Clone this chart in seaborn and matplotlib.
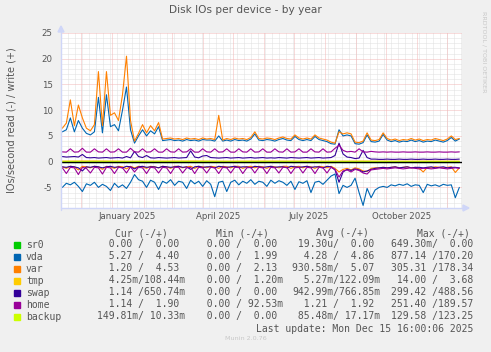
import numpy as np
import pandas as pd
import matplotlib
matplotlib.use("Agg")
import matplotlib.pyplot as plt
import matplotlib.dates as mdates
from matplotlib.ticker import MultipleLocator
import seaborn as sns

W, H = 491, 352
DPI = 100

# ---------------- data ----------------
dates = pd.date_range("2024-11-12", periods=100, freq="4D")
coarse_dates = pd.date_range("2024-11-12", periods=13, freq="33D")

vda_write = [5.8, 6.2, 8.5, 5.8, 8.0, 6.5, 5.5, 5.2, 5.8, 12.5,
             5.6, 13.0, 6.8, 7.2, 6.0, 10.0, 14.5, 6.2, 3.6, 5.0,
             6.2, 5.0, 6.0, 5.4, 6.8, 4.1, 4.2, 4.3, 4.1, 4.2,
             4.0, 4.3, 4.1, 4.2, 4.0, 4.3, 4.2, 4.2, 4.0, 5.0,
             4.0, 4.2, 4.0, 4.3, 4.1, 4.2, 4.0, 4.4, 5.4, 4.2,
             4.1, 4.3, 4.2, 4.0, 4.3, 4.5, 4.2, 4.1, 4.9, 4.3,
             4.1, 4.3, 4.1, 4.9, 4.3, 4.1, 3.9, 3.5, 3.4, 6.2,
             5.0, 5.2, 5.0, 3.5, 3.4, 3.7, 5.2, 3.9, 3.8, 4.0,
             5.3, 4.2, 3.9, 4.1, 3.8, 4.0, 3.9, 4.2, 3.9, 4.1,
             3.8, 4.0, 3.9, 4.2, 4.0, 3.8, 4.1, 4.7, 4.0, 4.4]
var_write = [6.5, 7.5, 12.0, 7.0, 11.0, 8.5, 6.5, 6.0, 7.2, 17.5,
             7.0, 17.5, 9.0, 9.5, 8.0, 13.0, 20.5, 8.0, 4.0, 5.5,
             7.2, 5.6, 7.0, 6.0, 7.6, 4.4, 4.5, 4.6, 4.4, 4.5,
             4.3, 4.6, 4.4, 4.5, 4.3, 4.6, 4.4, 4.5, 4.3, 9.0,
             4.2, 4.5, 4.3, 4.6, 4.4, 4.5, 4.3, 4.7, 5.8, 4.5,
             4.4, 4.6, 4.5, 4.3, 4.6, 4.8, 4.5, 4.4, 5.2, 4.6,
             4.4, 4.6, 4.4, 5.2, 4.6, 4.4, 4.2, 3.8, 3.6, 5.8,
             5.4, 5.6, 5.4, 3.8, 3.7, 4.0, 5.6, 4.2, 4.1, 4.3,
             5.6, 4.5, 4.2, 4.4, 4.1, 4.3, 4.2, 4.5, 4.2, 4.4,
             4.1, 4.3, 4.2, 4.5, 4.3, 4.1, 4.4, 5.0, 4.3, 4.5]
vda_read = [-5.0, -4.2, -4.5, -4.0, -4.8, -5.8, -4.3, -4.6, -4.0, -5.0,
            -4.4, -4.8, -5.6, -4.2, -5.0, -4.5, -5.2, -4.0, -2.5, -3.5,
            -3.8, -5.0, -3.6, -4.0, -5.4, -3.8, -4.2, -3.5, -4.6, -3.8,
            -4.0, -5.2, -3.6, -4.3, -3.8, -4.8, -3.7, -4.4, -6.8, -4.0,
            -3.8, -5.8, -4.0, -3.6, -4.5, -3.8, -4.2, -3.5, -4.4, -3.8,
            -4.0, -4.8, -3.6, -4.2, -3.7, -4.0, -4.6, -3.8, -5.4, -3.9,
            -4.2, -3.7, -6.0, -4.0, -3.8, -4.4, -3.6, -2.8, -2.4, -6.2,
            -4.6, -5.0, -4.6, -3.2, -6.0, -8.5, -5.2, -7.0, -5.5, -5.0,
            -4.8, -5.0, -4.5, -4.7, -4.4, -4.6, -4.3, -4.8, -4.5, -4.6,
            -6.0, -4.4, -4.7, -4.5, -4.8, -4.4, -4.6, -4.5, -7.0, -5.0]
var_read = [-1.0, -1.3, -0.9, -1.0, -1.6, -0.9, -1.0, -1.2, -0.9, -1.0,
            -1.5, -0.9, -1.0, -1.3, -0.9, -1.0, -1.4, -0.9, -1.2, -0.9,
            -1.0, -1.3, -0.9, -1.0, -1.2, -0.9, -1.0, -1.3, -0.9, -0.9,
            -1.2, -1.0, -0.9, -1.3, -0.9, -1.0, -1.2, -0.9, -1.0, -1.3,
            -0.9, -1.0, -1.2, -0.9, -0.9, -1.3, -1.0, -0.9, -1.2, -0.9,
            -1.0, -1.3, -0.9, -1.0, -1.2, -0.9, -0.9, -1.3, -1.0, -0.9,
            -1.2, -0.9, -1.0, -1.3, -0.9, -1.0, -1.2, -0.9, -1.3, -2.0,
            -1.5, -1.3, -1.6, -1.2, -1.4, -1.8, -1.9, -1.3, -1.2, -1.2,
            -1.1, -1.2, -1.1, -1.0, -1.2, -1.1, -1.0, -1.2, -1.1, -1.3,
            -2.0, -1.1, -1.2, -1.0, -1.1, -1.2, -1.1, -1.0, -2.1, -1.2]
swap_write = [1.0, 0.9, 0.95, 1.0, 0.9, 1.4, 0.8, 0.75, 0.8, 0.7,
              0.75, 0.8, 0.7, 0.75, 0.8, 0.7, 1.0, 0.75, 2.0, 1.0,
              0.8, 1.2, 0.75, 0.7, 0.8, 0.75, 0.7, 0.75, 0.8, 0.7,
              0.75, 0.8, 2.1, 0.9, 0.75, 1.1, 1.2, 0.8, 0.75, 0.7,
              0.75, 0.8, 0.7, 0.75, 0.8, 0.7, 0.75, 0.8, 0.7, 0.75,
              0.8, 0.7, 0.75, 0.7, 0.8, 0.75, 0.7, 0.8, 0.75, 0.7,
              0.75, 0.8, 0.7, 0.75, 0.8, 0.7, 0.75, 0.8, 1.2, 3.6,
              1.5, 0.9, 0.8, 0.6, 0.7, 2.2, 0.8, 0.5, 0.5, 0.45,
              0.45, 0.5, 0.45, 0.45, 0.5, 0.45, 0.45, 0.5, 0.45, 0.45,
              0.5, 0.45, 0.45, 0.5, 0.45, 0.45, 0.5, 0.45, 0.45, 0.5]
swap_read = [-1.0, -1.1, -0.9, -1.0, -1.2, -1.8, -1.0, -1.1, -0.9, -1.0,
             -1.2, -1.0, -0.9, -1.1, -1.0, -1.2, -0.9, -1.0, -1.4, -1.0,
             -0.9, -1.1, -1.0, -1.0, -1.2, -0.9, -1.0, -1.1, -1.0, -0.9,
             -1.1, -1.0, -1.5, -1.0, -0.9, -1.1, -1.0, -1.0, -1.2, -0.9,
             -1.0, -1.1, -1.0, -0.9, -1.1, -1.0, -1.0, -1.2, -0.9, -1.0,
             -1.1, -1.0, -0.9, -1.1, -1.0, -1.0, -1.2, -0.9, -1.0, -1.1,
             -1.0, -0.9, -1.1, -1.0, -1.0, -1.2, -0.9, -1.0, -1.6, -4.0,
             -2.0, -1.5, -1.7, -1.4, -1.6, -2.0, -1.8, -1.5, -1.3, -1.2,
             -1.1, -1.2, -1.1, -1.0, -1.2, -1.1, -1.0, -1.2, -1.1, -1.1,
             -1.2, -1.1, -1.0, -1.2, -1.1, -1.0, -1.2, -1.1, -1.1, -1.2]
home_write = [1.9, 1.85, 2.5, 1.85, 1.9, 2.6, 1.85, 1.85, 2.5, 1.9,
              1.85, 2.5, 1.85, 1.9, 2.5, 1.85, 1.85, 2.6, 1.9, 1.85,
              2.5, 1.85, 1.9, 2.5, 1.85, 1.85, 2.5, 1.9, 1.85, 2.5,
              1.85, 1.9, 2.5, 1.85, 1.85, 2.5, 1.9, 1.85, 2.5, 1.85,
              1.9, 2.5, 1.85, 1.85, 2.5, 1.9, 1.85, 2.5, 1.85, 1.9,
              2.5, 1.85, 1.85, 2.5, 1.9, 1.85, 2.5, 1.85, 1.9, 2.5,
              1.85, 1.85, 2.5, 1.9, 1.85, 2.5, 1.85, 1.9, 2.6, 3.2,
              2.2, 1.9, 2.0, 1.85, 2.5, 1.9, 1.85, 2.0, 1.9, 1.85,
              1.9, 1.85, 1.9, 1.85, 1.85, 1.9, 1.85, 1.85, 1.9, 1.85,
              1.85, 1.9, 1.85, 1.85, 1.9, 1.85, 1.85, 1.9, 1.85, 1.9]
home_read = [-1.2, -2.3, -1.1, -1.2, -2.5, -1.1, -1.3, -2.2, -1.1, -1.2,
             -2.4, -1.1, -1.2, -2.3, -1.1, -1.2, -2.2, -1.0, -2.0, -1.1,
             -1.2, -2.3, -1.1, -1.2, -2.2, -1.1, -1.2, -2.3, -1.1, -1.1,
             -2.2, -1.2, -1.1, -2.3, -1.1, -1.2, -2.2, -1.1, -1.2, -2.3,
             -1.1, -1.2, -2.2, -1.1, -1.1, -2.3, -1.2, -1.1, -2.2, -1.1,
             -1.2, -2.3, -1.1, -1.2, -2.2, -1.1, -1.1, -2.3, -1.2, -1.1,
             -2.2, -1.1, -1.2, -2.3, -1.1, -1.2, -2.2, -1.1, -1.5, -3.0,
             -1.8, -1.6, -2.0, -1.5, -1.7, -2.2, -2.4, -1.6, -1.5, -1.4,
             -1.3, -1.4, -1.3, -1.2, -1.3, -1.4, -1.3, -1.2, -1.3, -1.4,
             -1.3, -1.3, -1.4, -1.3, -1.2, -1.3, -1.4, -1.3, -1.2, -1.3]
tmp_write = [0.12, 0.15, 0.10, 0.12, 0.14, 0.11, 0.13, 0.12, 0.10, 0.13, 0.11, 0.12, 0.11]
tmp_read = [-0.01, -0.02, -0.01, -0.01, -0.02, -0.01, -0.01, -0.01, -0.02, -0.01, -0.01, -0.01, -0.01]
backup_write = [0.02, 0.01, 0.02, 0.01, 0.02, 0.01, 0.02, 0.03, 0.02, 0.01, 0.02, 0.01, 0.02]
backup_read = [-0.05, -0.08, -0.06, -0.05, -0.10, -0.06, -0.08, -0.07, -0.20, -0.06, -0.05, -0.08, -0.06]
sr0_write = [0, 0, 0, 0, 0, 0, 0, 0, 0, 0, 0, 0, 0]
sr0_read = [0, 0, 0, 0, 0, 0, 0, 0, 0, 0, 0, 0, 0]

names = ["sr0", "vda", "var", "tmp", "swap", "home", "backup"]
colors = ["#00CC00", "#0066B3", "#FF8000", "#FFCC00", "#330099", "#990099", "#CCFF00"]
cur_col = ["  0.00 /  0.00 ", "  5.27 /  4.40 ", "  1.20 /  4.53 ", "  4.25m/108.44m",
           "  1.14 /650.74m", "  1.14 /  1.90 ", "149.81m/ 10.33m"]
min_col = ["  0.00 /  0.00 ", "  0.00 /  1.99 ", "  0.00 /  2.13 ", "  0.00 /  1.20m",
           "  0.00 /  0.00 ", "  0.00 / 92.53m", "  0.00 /  0.00 "]
avg_col = [" 19.30u/  0.00 ", "  4.28 /  4.86 ", "930.58m/  5.07 ", "  5.27m/122.09m",
           "942.99m/766.85m", "  1.21 /  1.92 ", " 85.48m/ 17.17m"]
max_col = ["649.30m/  0.00 ", "877.14 /170.20 ", "305.31 /178.34 ", " 14.00 /  3.68 ",
           "299.42 /488.56 ", "251.40 /189.57 ", "129.58 /123.25 "]
col_headers = ["Cur (-/+)", "Min (-/+)", "Avg (-/+)", "Max (-/+)"]
x_tick_dates = ["2025-01-16", "2025-04-16", "2025-07-16", "2025-10-16"]
x_tick_labels = ["January 2025", "April 2025", "July 2025", "October 2025"]

# ---------------- figure ----------------
sns.set_theme(style="white")
plt.rcParams["font.family"] = ["DejaVu Sans"]
BG = "#F0F0F0"
FONT = "#555555"
AXIS = "#CFD6F8"

fig = plt.figure(figsize=(W / DPI, H / DPI), dpi=DPI, facecolor=BG)

L, R, T, B = 61, 462, 33, 208
ax = fig.add_axes([L / W, 1 - B / H, (R - L) / W, (B - T) / H])
ax.set_facecolor("white")

x0 = pd.Timestamp("2024-11-10 16:00")
x1 = pd.Timestamp("2025-12-15 16:00")
ax.set_xlim(x0, x1)
ax.set_ylim(-9.0, 25.0)

# grid
px = 72 / DPI
grid_c = "#E0E0E0"
mgrid_c = "#F2B8B8"
for v in np.arange(-9, 25.01, 1):
    if abs(v % 5) < 1e-9:
        continue
    ax.axhline(v, color=grid_c, lw=px, ls=(0, (1, 1)), zorder=0)
for v in np.arange(-5, 25.01, 5):
    ax.axhline(v, color=mgrid_c, lw=px, ls=(0, (1, 1)), zorder=0.5)
for d in pd.date_range("2024-11-18", "2025-12-15", freq="7D"):
    ax.axvline(d, color=grid_c, lw=px, ls=(0, (1, 1)), zorder=0)
for d in pd.date_range("2024-12-01", "2025-12-01", freq="MS"):
    ax.axvline(d, color=mgrid_c, lw=px, ls=(0, (1, 1)), zorder=0.5)

lw = 0.8
series = [
    ("sr0", coarse_dates, sr0_read, sr0_write),
    ("vda", dates, vda_read, vda_write),
    ("var", dates, var_read, var_write),
    ("tmp", coarse_dates, tmp_read, tmp_write),
    ("swap", dates, swap_read, swap_write),
    ("home", dates, home_read, home_write),
    ("backup", coarse_dates, backup_read, backup_write),
]
for (name, dts, rd, wr), c in zip(series, colors):
    sns.lineplot(x=dts, y=rd, color=c, lw=lw, ax=ax, legend=False)
    sns.lineplot(x=dts, y=wr, color=c, lw=lw, ax=ax, legend=False)

ax.axhline(0, color="black", lw=1.0, zorder=5)

for s in ax.spines.values():
    s.set_visible(False)
ax.tick_params(length=0, colors=FONT, labelsize=6.2, pad=3)
ax.yaxis.set_major_locator(MultipleLocator(5))
ax.set_xticks(pd.to_datetime(x_tick_dates))
ax.set_xticklabels(x_tick_labels)
ax.set_yticks([-5, 0, 5, 10, 15, 20, 25])
ax.set_yticklabels(["-5", "0", "5", "10", "15", "20", "25"])
ax.tick_params(axis="y", pad=6)
ax.set_xlabel("")
ax.set_ylabel("")

# axes lines + arrows
fig.add_artist(plt.Line2D([L / W, (R + 2) / W], [1 - B / H, 1 - B / H], color=AXIS, lw=1.0))
fig.add_artist(plt.Line2D([L / W, L / W], [1 - (B + 2) / H, 1 - (T - 2) / H], color=AXIS, lw=1.0))
fig.add_artist(plt.Polygon([[(R + 1) / W, 1 - (B - 3) / H], [(R + 1) / W, 1 - (B + 3) / H],
                            [(R + 7) / W, 1 - B / H]], closed=True, color=AXIS, transform=fig.transFigure))
fig.add_artist(plt.Polygon([[(L - 3) / W, 1 - (T - 1) / H], [(L + 3) / W, 1 - (T - 1) / H],
                            [L / W, 1 - (T - 7) / H]], closed=True, color=AXIS, transform=fig.transFigure))


def ftext(x, y, s, **kw):
    fig.text(x / W, 1 - y / H, s, **kw)


ftext(245, 10, "Disk IOs per device - by year", ha="center", va="center", fontsize=7.6, color=FONT)
ftext(12, 120, "IOs/second read (-) / write (+)", ha="center", va="center", rotation=90,
      fontsize=7.0, color=FONT)
ftext(484, 52, "RRDTOOL / TOBI OETIKER", ha="center", va="center", rotation=270,
      fontsize=4.6, color="#C8C8C8")
ftext(246, 339, "Munin 2.0.76", ha="center", va="center", fontsize=4.6, color="#C8C8C8")

mono = dict(family="DejaVu Sans Mono", fontsize=7.0, color=FONT, va="center", ha="left")
for hx, h in zip([115, 216, 316, 417], col_headers):
    ftext(hx, 233, h, **mono)
row_y = [244.5, 256.5, 268.5, 280.5, 292.5, 304.5, 316.5]
for i, (n, c) in enumerate(zip(names, colors)):
    y = row_y[i]
    fig.add_artist(plt.Rectangle((14 / W, 1 - (y + 3.5) / H), 6 / W, 6 / H, color=c,
                                 transform=fig.transFigure))
    ftext(26, y, n, **mono)
    ftext(97, y, cur_col[i], **mono)
    ftext(195, y, min_col[i], **mono)
    ftext(292, y, avg_col[i], **mono)
    ftext(391, y, max_col[i], **mono)
ftext(256, 328.5, "Last update: Mon Dec 15 16:00:06 2025", **mono)

fig.savefig("out.png", dpi=DPI, facecolor=BG)
